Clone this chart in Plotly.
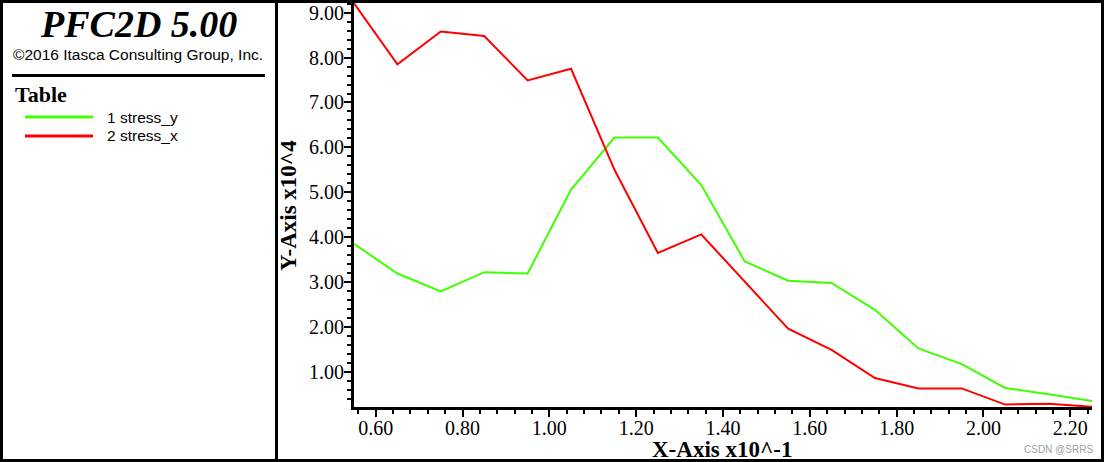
import plotly.graph_objects as go

# ---- data ----
x_vals = [0.55, 0.65, 0.75, 0.85, 0.95, 1.05, 1.15, 1.25, 1.35, 1.45,
          1.55, 1.65, 1.75, 1.85, 1.95, 2.05, 2.15, 2.25]
stress_y = [3.85, 3.19, 2.79, 3.22, 3.19, 5.06, 6.22, 6.22, 5.16, 3.46,
            3.03, 2.98, 2.38, 1.52, 1.17, 0.64, 0.50, 0.35]
stress_x = [9.21, 7.85, 8.58, 8.48, 7.49, 7.75, 5.50, 3.65, 4.06, 3.00,
            1.96, 1.49, 0.86, 0.63, 0.63, 0.27, 0.29, 0.22]
series_names = ["1 stress_y", "2 stress_x"]
series_colors = ["#40FF00", "#FF0000"]
x_ticks = [0.60, 0.80, 1.00, 1.20, 1.40, 1.60, 1.80, 2.00, 2.20]
y_ticks = [1, 2, 3, 4, 5, 6, 7, 8, 9]

# ---- layout geometry ----
FW, FH = 1104, 462
L, R, T, B = 354, 12, 3, 55
W, H = FW - L - R, FH - T - B


def px(x):
    return (x - L) / W


def py(y):
    return (FH - B - y) / H


SERIF = "Liberation Serif, Times New Roman, serif"
SANS = "Liberation Sans, Arial, sans-serif"

fig = go.Figure()
for name, ys, col in zip(series_names, [stress_y, stress_x], series_colors):
    fig.add_trace(go.Scatter(x=x_vals, y=ys, mode="lines", name=name,
                             line=dict(color=col, width=2)))

axis_common = dict(
    showline=True, linecolor="black", linewidth=3, mirror=False,
    showgrid=False, zeroline=False,
    ticks="outside", ticklen=7, tickwidth=2, tickcolor="black",
    tickfont=dict(family=SERIF, size=20, color="black"),
    tickformat=".2f",
)

fig.update_xaxes(range=[0.55, 2.25], tickmode="array", tickvals=x_ticks,
                 ticklabelstandoff=-6,
                 minor=dict(ticks="outside", ticklen=4, tickwidth=2,
                            tickcolor="black", dtick=0.04, tick0=0),
                 **axis_common)
fig.update_yaxes(range=[0.216, 9.216], tickmode="array", tickvals=y_ticks,
                 ticklabelstandoff=-4,
                 minor=dict(ticks="outside", ticklen=4, tickwidth=2,
                            tickcolor="black", dtick=0.2, tick0=0),
                 **axis_common)

shapes = [
    # outer border
    dict(type="rect", xref="paper", yref="paper", x0=px(1.5), x1=px(FW - 1.5),
         y0=py(FH - 1.5), y1=py(1.5), line=dict(color="black", width=3)),
    # divider between info panel and plot
    dict(type="line", xref="paper", yref="paper", x0=px(276.5), x1=px(276.5),
         y0=py(0), y1=py(FH), line=dict(color="black", width=3)),
    # separator under copyright
    dict(type="line", xref="paper", yref="paper", x0=px(12), x1=px(265),
         y0=py(75.5), y1=py(75.5), line=dict(color="black", width=3)),
]
for i, col in enumerate(series_colors):
    yy = 117 + i * 19
    shapes.append(dict(type="line", xref="paper", yref="paper", x0=px(25), x1=px(93),
                       y0=py(yy), y1=py(yy), line=dict(color=col, width=3)))

annotations = [
    dict(text="<b><i>PFC2D 5.00</i></b>", x=px(138), y=py(24), xanchor="center", yanchor="middle",
         font=dict(family=SERIF, size=38, color="black")),
    dict(text="\u00a92016 Itasca Consulting Group, Inc.", x=px(137.5), y=py(54),
         xanchor="center", yanchor="middle", font=dict(family=SANS, size=15.5, color="black")),
    dict(text="<b>Table</b>", x=px(13), y=py(95), xanchor="left", yanchor="middle",
         font=dict(family=SERIF, size=22, color="black")),
    dict(text="<b>X-Axis x10^-1</b>", x=px(722), y=py(449), xanchor="center", yanchor="middle",
         font=dict(family=SERIF, size=23, color="black")),
    dict(text="<b>Y-Axis x10^4</b>", x=px(288), y=py(206), xanchor="center", yanchor="middle",
         textangle=-90, font=dict(family=SERIF, size=23, color="black")),
    dict(text="CSDN @SRRS", x=px(1058), y=py(449), xanchor="center", yanchor="middle",
         font=dict(family=SANS, size=10, color="#a0a0a0")),
]
for i, name in enumerate(series_names):
    annotations.append(dict(text=name, x=px(105), y=py(117 + i * 19), xanchor="left",
                            yanchor="middle",
                            font=dict(family=SANS, size=15.5, color="black")))
for a in annotations:
    a.update(xref="paper", yref="paper", showarrow=False)

fig.update_layout(
    width=FW, height=FH,
    margin=dict(l=L, r=R, t=T, b=B, pad=0),
    paper_bgcolor="white", plot_bgcolor="white",
    showlegend=False,
    shapes=shapes,
    annotations=annotations,
)

fig.write_html("out.html", config={"displayModeBar": False},
               post_script="document.body.style.margin='0';document.body.style.overflow='hidden';")
